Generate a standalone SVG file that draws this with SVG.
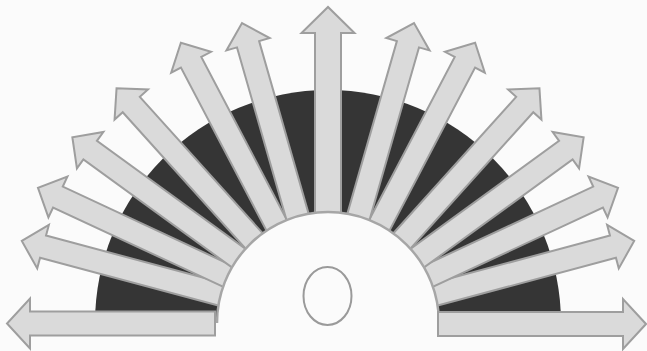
<svg xmlns="http://www.w3.org/2000/svg" xmlns:xlink="http://www.w3.org/1999/xlink" width="647" height="351" viewBox="0 0 647 351">
  <style>
    .arrow { fill: #dadada; stroke: #9e9e9e; stroke-width: 2; stroke-linejoin: miter; }
    .band { fill: #353535; }
    .hub { fill: #fbfbfb; }
    .hubedge { fill: none; stroke: #a6a6a6; stroke-width: 2.5; }
    .core { fill: none; stroke: #9a9a9a; stroke-width: 2; }
  </style>
  <defs>
    <!-- tilted arrow, tip at origin, pointing along +x -->
    <polygon id="arrT" points="-220,-11.5 -22,-11.5 -22,-22.5 0,0 -22,22.5 -22,11.5 -220,11.5"/>
    <!-- vertical arrow -->
    <polygon id="arrV" points="-220,-13 -26,-13 -26,-26.5 0,0 -26,26.5 -26,13 -220,13"/>
    <!-- horizontal arrows -->
    <polygon id="arrH" points="-208,-12 -23,-12 -23,-25 0,0 -23,25 -23,12 -208,12"/>
  </defs>
  <rect width="647" height="351" fill="#fbfbfb"/>

  <g id="band">
    <path class="band" d="M95,323 A233,233 0 0 1 561,323 Z"/>
  </g>

  <g id="connectors">
    <use xlink:href="#arrT" class="arrow" transform="translate(328,323) rotate(-165) translate(317,0)"/>
    <use xlink:href="#arrT" class="arrow" transform="translate(328,323) rotate(-155) translate(320,0)"/>
    <use xlink:href="#arrT" class="arrow" transform="translate(328,323) rotate(-144) translate(316,0)"/>
    <use xlink:href="#arrT" class="arrow" transform="translate(328,323) rotate(-132) translate(316,0)"/>
    <use xlink:href="#arrT" class="arrow" transform="translate(328,323) rotate(-117.7) translate(316.5,0)"/>
    <use xlink:href="#arrT" class="arrow" transform="translate(328,323) rotate(-106) translate(312,0)"/>
    <use xlink:href="#arrT" class="arrow" transform="translate(328,323) rotate(-15) translate(317,0)"/>
    <use xlink:href="#arrT" class="arrow" transform="translate(328,323) rotate(-25) translate(320,0)"/>
    <use xlink:href="#arrT" class="arrow" transform="translate(328,323) rotate(-36) translate(316,0)"/>
    <use xlink:href="#arrT" class="arrow" transform="translate(328,323) rotate(-48) translate(316,0)"/>
    <use xlink:href="#arrT" class="arrow" transform="translate(328,323) rotate(-62.3) translate(316.5,0)"/>
    <use xlink:href="#arrT" class="arrow" transform="translate(328,323) rotate(-74) translate(312,0)"/>
    <use xlink:href="#arrV" class="arrow" transform="translate(328,323) rotate(-90) translate(316,0)"/>
  </g>

  <g id="hub">
    <circle class="hub" cx="328" cy="323" r="111"/>
    <path class="hubedge" d="M217,323 A111,111 0 0 1 439,323"/>
    <ellipse class="core" cx="327.5" cy="296" rx="24" ry="29"/>
  </g>

  <g id="side-arrows">
    <use xlink:href="#arrH" class="arrow" transform="translate(7,323.5) rotate(180)"/>
    <use xlink:href="#arrH" class="arrow" transform="translate(646,324)"/>
  </g>
</svg>
